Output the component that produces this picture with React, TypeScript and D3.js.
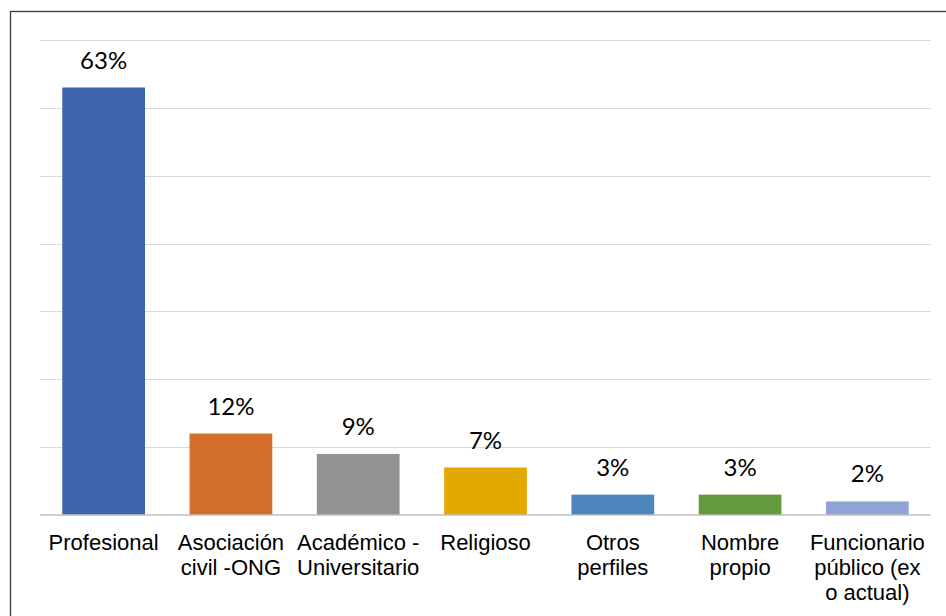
import React from "react";
import * as d3 from "d3";

const categories: string[][] = [
  ["Profesional"],
  ["Asociación", "civil -ONG"],
  ["Académico -", "Universitario"],
  ["Religioso"],
  ["Otros", "perfiles"],
  ["Nombre", "propio"],
  ["Funcionario", "público (ex", "o actual)"],
];
const values: number[] = [0.63, 0.12, 0.09, 0.07, 0.03, 0.03, 0.02];
const valueLabels: string[] = ["63%", "12%", "9%", "7%", "3%", "3%", "2%"];
const colors: string[] = ["#3c65ae", "#d46e2c", "#929292", "#e2a900", "#4d86bd", "#629b3e", "#8fa4d6"];
const gridTicks: number[] = [0, 0.1, 0.2, 0.3, 0.4, 0.5, 0.6, 0.7];

const W = 946;
const H = 616;

export default function App() {
  const keys = categories.map((_, i) => String(i));
  const x = d3.scaleBand<string>().domain(keys).range([40, 931]).paddingInner(0.35).paddingOuter(0.175);
  const y = d3.scaleLinear().domain([0, 0.7]).range([515, 40]);

  return (
    <svg width={W} height={H} style={{ position: "absolute", left: 0, top: 0, background: "#fff" }}>
      <rect x={10.5} y={11.5} width={1000} height={1000} fill="#fff" stroke="#3a3a3a" strokeWidth={1.3} />
      {gridTicks.slice(1).map((t) => (
        <line key={t} x1={40} x2={931} y1={Math.round(y(t)) + 0.5} y2={Math.round(y(t)) + 0.5} stroke="#d9d9d9" strokeWidth={1.2} />
      ))}
      {values.map((v, i) => (
        <rect key={i} x={x(keys[i])!} y={y(v)} width={x.bandwidth()} height={y(0) - y(v)} fill={colors[i]} />
      ))}
      <line x1={40} x2={931} y1={y(0)} y2={y(0)} stroke="#bfbfbf" strokeWidth={1.4} />
      {values.map((v, i) => (
        <text
          key={i}
          x={x(keys[i])! + x.bandwidth() / 2}
          y={y(v) - 19}
          textAnchor="middle"
          fontFamily="Lato, 'Open Sans', sans-serif"
          fontSize={24}
          fill="#000"
        >
          {valueLabels[i]}
        </text>
      ))}
      {categories.map((lines, i) => (
        <text
          key={i}
          x={x(keys[i])! + x.bandwidth() / 2}
          y={549.5}
          textAnchor="middle"
          fontFamily="'Liberation Sans', Arial, sans-serif"
          fontSize={22}
          fill="#000"
        >
          {lines.map((l, j) => (
            <tspan key={j} x={x(keys[i])! + x.bandwidth() / 2} dy={j === 0 ? 0 : 25}>
              {l}
            </tspan>
          ))}
        </text>
      ))}
    </svg>
  );
}
